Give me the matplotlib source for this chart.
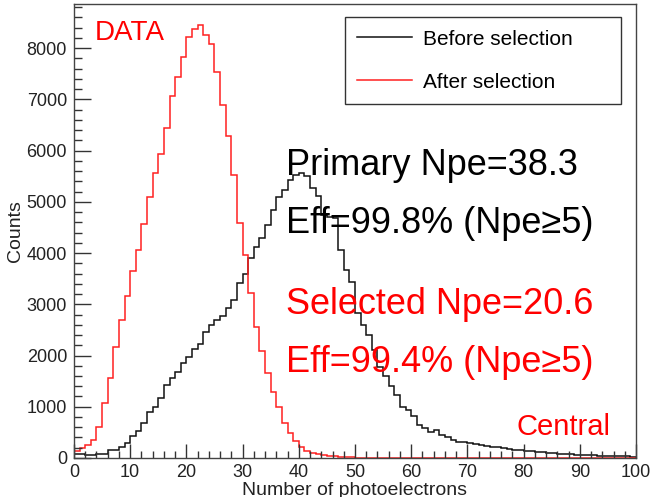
import numpy as np
import matplotlib
matplotlib.use("Agg")
from matplotlib import pyplot as plt

# Histogram contents, 1 p.e. bins from 0 to 100
bin_edges = np.arange(0, 101, 1)

before_sel = [
    80, 75, 60, 60, 75, 85, 150, 160, 220, 285,
    430, 530, 680, 900, 990, 1180, 1420, 1555, 1685, 1850,
    1980, 2120, 2220, 2450, 2595, 2690, 2770, 2920, 3080, 3410,
    3600, 3900, 4120, 4290, 4550, 4840, 5100, 5230, 5420, 5520,
    5570, 5500, 5260, 5120, 4740, 4700, 4680, 4060, 3670, 3440,
    2820, 2600, 2400, 2110, 1780, 1600, 1410, 1230, 1000, 940,
    810, 640, 580, 510, 550, 450, 400, 360, 320, 320,
    290, 280, 260, 230, 215, 210, 200, 180, 160, 150,
    140, 130, 115, 110, 95, 90, 85, 80, 70, 65,
    60, 55, 50, 45, 40, 40, 35, 30, 30, 25,
]

after_sel = [
    140, 200, 250, 360, 610, 1070, 1560, 2160, 2690, 3170,
    3650, 4060, 4560, 5090, 5570, 5930, 6440, 7060, 7430, 7830,
    8210, 8370, 8450, 8260, 8080, 7540, 6880, 6280, 5530, 4580,
    3960, 3210, 2560, 2080, 1650, 1280, 990, 680, 490, 340,
    220, 140, 100, 75, 55, 40, 30, 20, 15, 10,
    6, 4, 3, 2, 0, 0, 0, 0, 0, 0,
    0, 0, 0, 0, 0, 0, 0, 0, 0, 0,
    0, 0, 0, 0, 0, 0, 0, 0, 0, 0,
    0, 0, 0, 0, 0, 0, 0, 0, 0, 0,
    0, 0, 0, 0, 0, 0, 0, 0, 0, 0,
]

legend_labels = ["Before selection", "After selection"]

plt.rcParams["font.family"] = ["Liberation Sans", "DejaVu Sans"]

fig = plt.figure(figsize=(6.54, 4.97), dpi=100)
ax = fig.add_axes([0.1131, 0.0785, 0.8594, 0.9135])

ax.stairs(before_sel, bin_edges, color="#111111", lw=1.1, label=legend_labels[0])
ax.stairs(after_sel, bin_edges, color="#ff2020", lw=1.1, label=legend_labels[1])

ax.set_xlim(0, 100)
ax.set_ylim(0, 8860)
ax.set_xticks(np.arange(0, 101, 10))
ax.set_xticks(np.arange(0, 101, 2), minor=True)
ax.set_yticks(np.arange(0, 8001, 1000))
ax.set_yticks(np.arange(0, 8801, 200), minor=True)

ax.tick_params(axis="both", which="both", direction="in", colors="#333333",
               labelcolor="#222222", labelsize=13)
ax.tick_params(axis="x", which="major", length=9.8, width=1, pad=4)
ax.tick_params(axis="x", which="minor", length=4.9, width=1)
ax.tick_params(axis="y", which="major", length=12.2, width=1, pad=5)
ax.tick_params(axis="y", which="minor", length=6.1, width=1)
for sp in ax.spines.values():
    sp.set_color("#444444")
    sp.set_linewidth(1)

ax.set_xlabel("Number of photoelectrons", fontsize=14, color="#222222", labelpad=1)
ax.set_ylabel("Counts", fontsize=14, color="#222222", labelpad=2)

leg = ax.legend(loc="upper left", bbox_to_anchor=(0.482, 0.971, 0.491, 0.0),
                mode="expand", borderaxespad=0, fancybox=False, framealpha=1,
                edgecolor="#333333", fontsize=15, handlelength=2.6,
                labelspacing=1.15, borderpad=0.6, handletextpad=0.55)
leg.get_frame().set_linewidth(1)

# annotations
ax.text(0.037, 0.921, "DATA", transform=ax.transAxes, color="red",
        fontsize=20, va="baseline")
ax.text(0.377, 0.623, "Primary Npe=38.3", transform=ax.transAxes,
        color="black", fontsize=26, va="baseline")
ax.text(0.377, 0.496, "Eff=99.8% (Npe\u22655)", transform=ax.transAxes,
        color="black", fontsize=26, va="baseline")
ax.text(0.377, 0.317, "Selected Npe=20.6", transform=ax.transAxes,
        color="red", fontsize=26, va="baseline")
ax.text(0.377, 0.189, "Eff=99.4% (Npe\u22655)", transform=ax.transAxes,
        color="red", fontsize=26, va="baseline")
ax.text(0.788, 0.051, "Central", transform=ax.transAxes, color="red",
        fontsize=21, va="baseline")

plt.savefig("out.png", dpi=100)
